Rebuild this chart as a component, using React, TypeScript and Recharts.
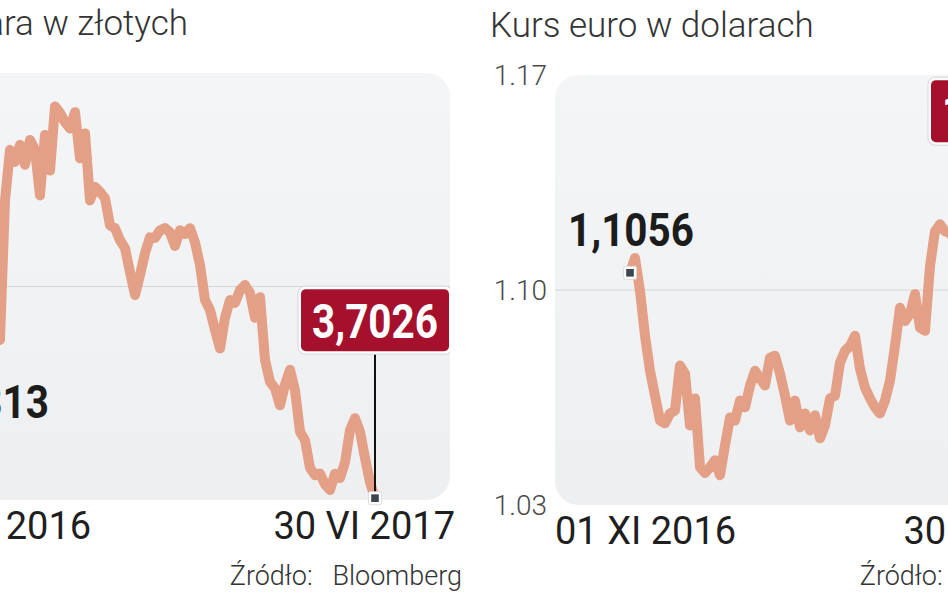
import React from 'react';
import { LineChart, Line, XAxis, YAxis, ReferenceArea, ReferenceLine } from 'recharts';

// ---- data: USD/PLN (Kurs dolara w złotych), 01 XI 2016 – 30 VI 2017
const usdDates = ['01 XI 2016', '30 VI 2017'];
const usdTicks = [3.7, 4.0, 4.3];
const usdPln = [
  3.9313, 3.929, 3.925, 3.925, 4.121, 4.192, 4.175, 4.199, 4.171, 4.206,
  4.192, 4.128, 4.213, 4.163, 4.253, 4.244, 4.231, 4.222, 4.245, 4.18,
  4.215, 4.121, 4.14, 4.133, 4.124, 4.086, 4.082, 4.065, 4.054, 4.02,
  3.988, 4.016, 4.047, 4.069, 4.068, 4.079, 4.082, 4.076, 4.057, 4.079,
  4.074, 4.082, 4.062, 4.03, 3.981, 3.967, 3.939, 3.913, 3.956, 3.981,
  3.977, 3.995, 4.002, 3.991, 3.956, 3.985, 3.897, 3.866, 3.857, 3.833,
  3.862, 3.883, 3.854, 3.796, 3.784, 3.745, 3.735, 3.737, 3.722, 3.714,
  3.737, 3.731, 3.753, 3.798, 3.815, 3.796, 3.759, 3.725, 3.7026,
];

// ---- data: EUR/USD (Kurs euro w dolarach), 01 XI 2016 – 30 VI 2017
const eurDates = ['01 XI 2016', '30 VI 2017'];
const eurTicks = [1.03, 1.1, 1.17];
const eurUsd = [
  1.1056, 1.1104, 1.0997, 1.0851, 1.0737, 1.0656, 1.0575, 1.0566, 1.0598, 1.0608,
  1.0754, 1.0728, 1.0559, 1.0647, 1.0423, 1.0404, 1.0423, 1.0446, 1.0397, 1.0494,
  1.0585, 1.0575, 1.064, 1.0618, 1.0689, 1.0737, 1.0712, 1.0689, 1.078, 1.0786,
  1.0728, 1.0656, 1.0575, 1.064, 1.0553, 1.0598, 1.0543, 1.0592, 1.0517, 1.0559,
  1.0647, 1.0656, 1.0763, 1.0802, 1.0818, 1.0851, 1.0744, 1.0682, 1.0647, 1.0618,
  1.0598, 1.064, 1.0705, 1.0818, 1.0942, 1.0899, 1.0922, 1.0987, 1.0877, 1.0867,
  1.1078, 1.1191, 1.1214, 1.1191, 1.1185, 1.1159, 1.1143, 1.1126, 1.1143, 1.111,
  1.1126, 1.1159, 1.124, 1.1321, 1.1418, 1.1426,
];

const PAD_IDX = 15; // empty space (in data steps) between panel edge and first/last point
const PAD_PX = 75;
const LINE_COLOR = '#e3a086';
const BOX_COLOR = '#a5102d';
const NUM_FONT = 'Roboto, "DejaVu Sans Condensed", sans-serif';
const TXT_FONT = 'Roboto, "Open Sans", sans-serif';

const fmt = (v: number) => v.toFixed(4).replace('.', ',');

type PanelProps = {
  id: string;
  left: number;
  plotWidth: number;
  marginTop: number;
  marginBottom: number;
  values: number[];
  dates: string[];
  ticks: number[];
  startDy: number;
  boxDy: number;
};

function RatePanel(p: PanelProps) {
  const data = p.values.map((v, i) => ({ i, v }));
  const last = data.length - 1;
  const width = 65 + p.plotWidth + 10;

  const renderDot = (props: any) => {
    const { cx, cy, index, payload } = props;
    if (index !== 0 && index !== last) return <g key={`d${index}`} />;
    const marker = (
      <g>
        <rect x={cx - 6.5} y={cy - 6.5} width={13} height={13} fill="#ffffff" stroke="#d8d8d8" strokeWidth={0.8} rx={1.5} />
        <rect x={cx - 3.8} y={cy - 3.8} width={7.6} height={7.6} fill="#3b464e" />
      </g>
    );
    if (index === 0) {
      return (
        <g key={`d${index}`}>
          <text
            x={cx - 62}
            y={cy + p.startDy}
            textAnchor="start"
            fontFamily={NUM_FONT}
            fontWeight={700}
            fontSize={46}
            textLength={126}
            lengthAdjust="spacingAndGlyphs"
            fill="#1c1c1c"
          >
            {fmt(payload.v)}
          </text>
          {marker}
        </g>
      );
    }
    const boxTop = cy + p.boxDy;
    return (
      <g key={`d${index}`}>
        <line x1={cx} y1={boxTop + 60} x2={cx} y2={cy} stroke="#111" strokeWidth={2} />
        <rect x={cx - 77} y={boxTop - 2} width={154} height={68} rx={7} fill="#ffffff" stroke="#d6d6d6" strokeWidth={1} />
        <rect x={cx - 74} y={boxTop + 1} width={148} height={62} rx={5} fill={BOX_COLOR} />
        <text
          x={cx - 63}
          y={boxTop + 50}
          textAnchor="start"
          fontFamily={NUM_FONT}
          fontWeight={700}
          fontSize={49}
          textLength={126}
          lengthAdjust="spacingAndGlyphs"
          fill="#ffffff"
        >
          {fmt(payload.v)}
        </text>
        {marker}
      </g>
    );
  };

  const renderTick = (props: any) => {
    const { x, y, index } = props;
    const first = index === 0;
    return (
      <text
        x={first ? x - PAD_PX : x + PAD_PX + 5}
        y={y + 31}
        textAnchor={first ? 'start' : 'end'}
        fontFamily={TXT_FONT}
        fontSize={38}
        fill="#1f1f1f"
      >
        {first ? p.dates[0] : p.dates[1]}
      </text>
    );
  };

  const gradId = `panelGrad-${p.id}`;
  const panelShape = (s: any) => (
    <g>
      <defs>
        <linearGradient id={gradId} x1="0" y1="0" x2="0" y2="1">
          <stop offset="0%" stopColor="#f4f5f6" />
          <stop offset="100%" stopColor="#eeeff1" />
        </linearGradient>
      </defs>
      <rect x={s.x} y={s.y} width={s.width} height={s.height} rx={24} ry={24} fill={`url(#${gradId})`} />
    </g>
  );

  const lo = p.ticks[0];
  const hi = p.ticks[p.ticks.length - 1];

  return (
    <div style={{ position: 'absolute', left: p.left, top: 0 }}>
      <LineChart
        width={width}
        height={593}
        data={data}
        margin={{ top: p.marginTop, right: 10, bottom: p.marginBottom, left: 5 }}
      >
        <XAxis
          dataKey="i"
          type="number"
          domain={[-PAD_IDX, last + PAD_IDX]}
          ticks={[0, last]}
          tick={renderTick}
          axisLine={false}
          tickLine={false}
          height={50}
          interval={0}
          allowDataOverflow
        />
        <YAxis
          type="number"
          domain={[lo, hi]}
          ticks={p.ticks}
          tickFormatter={(v: number) => v.toFixed(2)}
          axisLine={false}
          tickLine={false}
          width={60}
          interval={0}
          tick={{ fontFamily: TXT_FONT, fontWeight: 300, fontSize: 28, fill: '#4a4a4a' }}
        />
        <ReferenceArea x1={-PAD_IDX} x2={last + PAD_IDX} y1={lo} y2={hi} shape={panelShape} ifOverflow="visible" />
        <ReferenceLine y={p.ticks[1]} stroke="#d3d5d8" strokeWidth={1.2} />
        <Line
          type="linear"
          dataKey="v"
          stroke={LINE_COLOR}
          strokeWidth={10}
          strokeLinejoin="round"
          strokeLinecap="round"
          dot={renderDot}
          activeDot={false}
          isAnimationActive={false}
        />
      </LineChart>
    </div>
  );
}

export default function App() {
  const src = 'Źródło:\u00a0\u00a0\u00a0Bloomberg';
  return (
    <div
      style={{
        position: 'absolute',
        left: 0,
        top: 0,
        width: 948,
        height: 593,
        overflow: 'hidden',
        background: '#ffffff',
      }}
    >
      <RatePanel
        id="usd"
        left={-155}
        plotWidth={540}
        marginTop={73}
        marginBottom={43}
        values={usdPln}
        dates={usdDates}
        ticks={usdTicks}
        startDy={83}
        boxDy={-210}
      />
      <RatePanel
        id="eur"
        left={490}
        plotWidth={525}
        marginTop={75}
        marginBottom={38}
        values={eurUsd}
        dates={eurDates}
        ticks={eurTicks}
        startDy={-27}
        boxDy={-80}
      />
      <svg width={948} height={593} style={{ position: 'absolute', left: 0, top: 0, pointerEvents: 'none' }}>
        <text x={188} y={35} textAnchor="end" fontFamily={TXT_FONT} fontWeight={300} fontSize={35} fill="#333333">
          Kurs dolara w złotych
        </text>
        <text x={490} y={37} textAnchor="start" fontFamily={TXT_FONT} fontWeight={300} fontSize={35} fill="#333333">
          Kurs euro w dolarach
        </text>
        <text x={462} y={585} textAnchor="end" fontFamily={TXT_FONT} fontWeight={300} fontSize={27} fill="#333333">
          {src}
        </text>
        <text x={1092} y={585} textAnchor="end" fontFamily={TXT_FONT} fontWeight={300} fontSize={27} fill="#333333">
          {src}
        </text>
      </svg>
    </div>
  );
}
